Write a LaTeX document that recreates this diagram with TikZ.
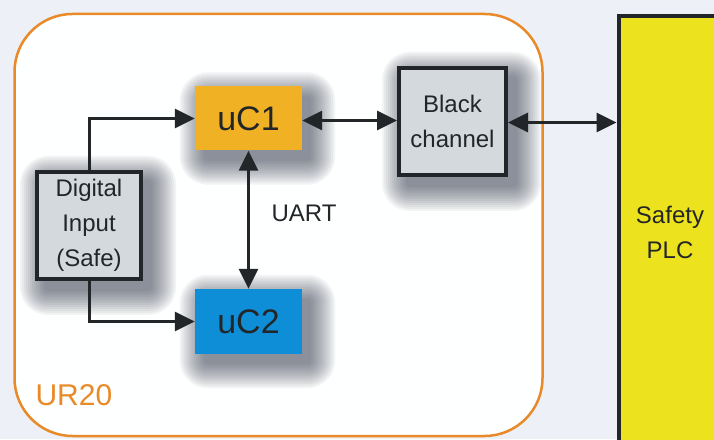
\documentclass[tikz,border=0pt]{standalone}
\usepackage{fontspec}
\setmainfont{Liberation Sans}
\usetikzlibrary{arrows.meta}
\definecolor{bgc}{RGB}{238,240,247}
\definecolor{urorange}{RGB}{232,138,40}
\definecolor{ucone}{RGB}{240,178,36}
\definecolor{uctwo}{RGB}{14,142,214}
\definecolor{boxgray}{RGB}{212,217,222}
\definecolor{plcyellow}{RGB}{236,226,30}
\definecolor{ink}{RGB}{35,38,40}
\definecolor{shadc}{RGB}{45,50,70}
\pgfdeclarelayer{back}
\pgfdeclarelayer{shadow}
\pgfsetlayers{back,shadow,main}
\newcommand{\mydropshadow}[1]{%
  \begin{pgfonlayer}{shadow}
  \foreach \r [evaluate=\r as \rc using \r+4] in {0,2,...,24}{%
    \fill[shadc,opacity=0.055,rounded corners=\rc pt]
      ([shift={(9-\r,-10-\r)}]#1.south west) rectangle ([shift={(9+\r,-10+\r)}]#1.north east);
  }%
  \end{pgfonlayer}}
\tikzset{
  ucbox/.style={minimum width=107pt,minimum height=64pt,inner sep=0pt,font=\fontsize{34}{36}\selectfont,text=ink},
  graybox/.style={draw=ink,line width=4pt,fill=boxgray,inner sep=0pt,align=center,text=ink,font=\fontsize{24}{35}\selectfont},
  conn/.style={draw=ink,line width=3pt,-{Triangle[length=20pt,width=19pt]}},
  biconn/.style={draw=ink,line width=3pt,{Triangle[length=20pt,width=19pt]}-{Triangle[length=20pt,width=19pt]}}
}
\begin{document}
\begin{tikzpicture}[x=1pt,y=1pt]
\begin{pgfonlayer}{back}
\fill[bgc] (0,0) rectangle (714,439);
\node[draw=urorange,line width=2.5pt,fill=white!97!bgc,rounded corners=58pt,minimum width=528pt,minimum height=422pt,inner sep=0pt] (ur) at (278.5,214) {};
\end{pgfonlayer}
\useasboundingbox (0,0) rectangle (714,439);
\node[ucbox,fill=ucone] (uc1) at (248.5,320.5) {uC1};
\node[ucbox,fill=uctwo,minimum height=65pt] (uc2) at (248.5,117.5) {uC2};
\node[graybox,minimum width=104pt,minimum height=107pt] (din) at (89,213.5) {Digital\\Input\\(Safe)};
\node[graybox,minimum width=107pt,minimum height=107pt] (bc) at (452.5,317.5) {Black\\channel};
\mydropshadow{uc1}
\mydropshadow{uc2}
\mydropshadow{din}
\mydropshadow{bc}
\node[draw=ink,line width=4pt,fill=plcyellow,minimum width=103pt,minimum height=432pt,inner sep=0pt,align=center,text=ink,font=\fontsize{24}{35}\selectfont] (plc) at (670,207) {Safety\\PLC};
\node[text=ink,font=\fontsize{24}{26}\selectfont,anchor=west] (uart) at (268,226) {UART};
\node[text=urorange,font=\fontsize{30}{32}\selectfont,anchor=west] (urlabel) at (32,44) {UR20};
\draw[conn] (din.north) |- (uc1.west);
\draw[conn] (din.south) |- (uc2.west);
\draw[biconn] (uc1.south) -- (uc2.north);
\draw[biconn] ([yshift=-2pt]uc1.east) -- ([yshift=-2pt]uc1.east -| bc.west);
\draw[biconn] ([yshift=-1pt]bc.east) -- ([yshift=-1pt]bc.east -| plc.west);
\end{tikzpicture}
\end{document}
